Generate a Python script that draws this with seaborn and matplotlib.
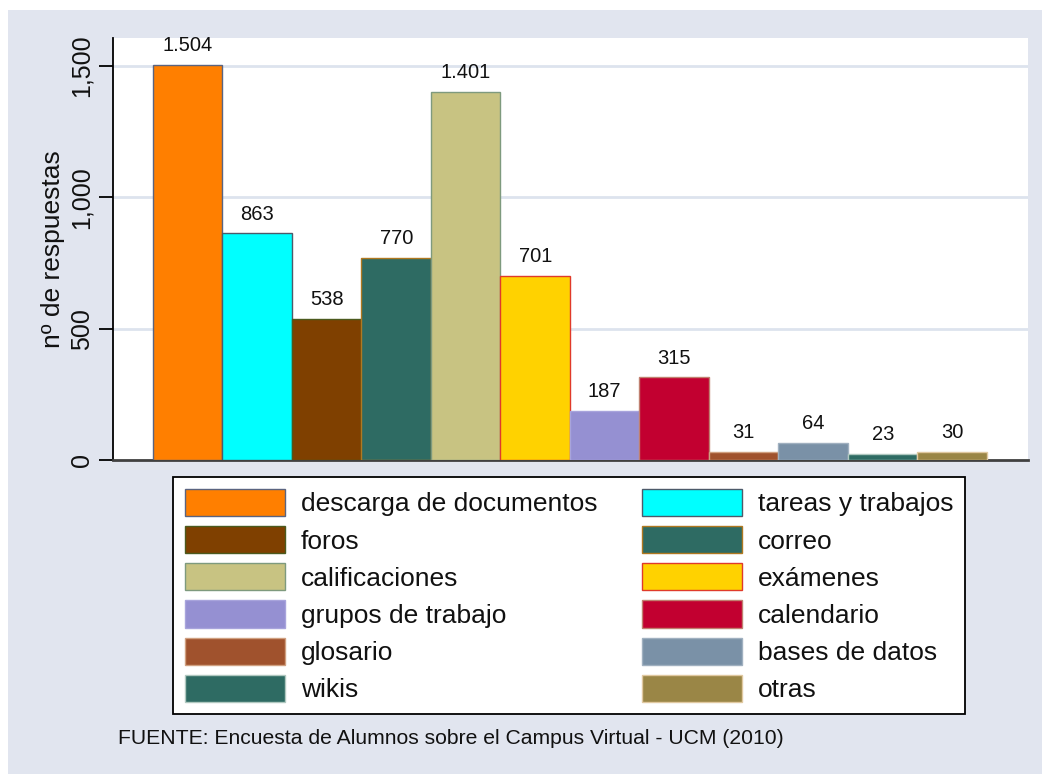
import matplotlib
matplotlib.use("Agg")
import matplotlib.pyplot as plt
from matplotlib.patches import Rectangle, Patch
import seaborn as sns
import pandas as pd

categorias = ["descarga de documentos", "tareas y trabajos", "foros", "correo",
              "calificaciones", "exámenes", "grupos de trabajo", "calendario",
              "glosario", "bases de datos", "wikis", "otras"]
respuestas = [1504, 863, 538, 770, 1401, 701, 187, 315, 31, 64, 23, 30]
colores = ["#FF7F00", "#00FFFF", "#7F4000", "#2E6B63", "#C8C382", "#FFD200",
           "#9590D2", "#C20030", "#A0522D", "#7A91A7", "#2E6B63", "#9A8646"]
bordes = ["#5A6480", "#4D5A6A", "#4B5A1E", "#B07820", "#7E9A7E", "#E03A2A",
          "#A8A4DC", "#C08070", "#D0A080", "#A0B0C0", "#B0C8C0", "#E0C8A0"]
yticks = [0, 500, 1000, 1500]
ytick_labels = ["0", "500", "1,000", "1,500"]
fuente = "FUENTE: Encuesta de Alumnos sobre el Campus Virtual - UCM (2010)"

sns.set_theme(style="white")
plt.rcParams["font.family"] = ["Liberation Sans", "DejaVu Sans"]
plt.rcParams["text.color"] = "#111111"
plt.rcParams["axes.labelcolor"] = "#111111"
plt.rcParams["ytick.color"] = "black"
plt.rcParams["ytick.labelcolor"] = "#111111"

W, H = 1042, 774
fig = plt.figure(figsize=(W / 100, H / 100), dpi=100, facecolor="white")
fig.add_artist(Rectangle((8 / W, 0), 1 - 8 / W, 1 - 10 / H, transform=fig.transFigure,
                         facecolor="#E1E5EF", edgecolor="none", zorder=0))

ax = fig.add_axes([113 / W, 1 - 460 / H, (1028 - 113) / W, (460 - 38) / H])
ax.set_facecolor("white")

df = pd.DataFrame({"cat": categorias, "n": respuestas})
sns.barplot(data=df, x="cat", y="n", hue="cat", palette=colores, dodge=False,
            width=1.0, legend=False, ax=ax, order=categorias, hue_order=categorias,
            saturation=1)

for p, ec in zip(ax.patches, bordes):
    p.set_edgecolor(ec)
    p.set_linewidth(1.0)
    p.set_zorder(3)

labels = [f"{v:,}".replace(",", ".") for v in respuestas]
for p, lab in zip(ax.patches, labels):
    ax.annotate(lab, (p.get_x() + p.get_width() / 2, p.get_height()),
                xytext=(0, 7), textcoords="offset points", ha="center", va="bottom",
                fontsize=14.5, color="#111111")

ax.set_xlim(-0.5 - 0.575, 11.5 + 0.59)
ax.set_ylim(0, 1606)
ax.set_yticks(yticks)
ax.set_yticklabels(ytick_labels, rotation=90, va="center", fontsize=18)
ax.set_xticks([])
ax.set_xlabel("")
ax.set_ylabel("nº de respuestas", fontsize=19, labelpad=3)
for y in yticks[1:]:
    ax.axhline(y, color="#DDE3EE", linewidth=2, zorder=1)

for s in ["top", "right"]:
    ax.spines[s].set_visible(False)
ax.spines["left"].set_color("black")
ax.spines["left"].set_linewidth(1.3)
ax.spines["bottom"].set_color("#404040")
ax.spines["bottom"].set_linewidth(2)
ax.tick_params(axis="y", length=10, width=1.3, color="black", pad=4, left=True)

order = [0, 2, 4, 6, 8, 10, 1, 3, 5, 7, 9, 11]
handles = [Patch(facecolor=colores[i], edgecolor=bordes[i], linewidth=1.0) for i in order]
leg_labels = [categorias[i] for i in order]
leg = fig.legend(handles, leg_labels, ncol=2, loc="upper left",
                 bbox_to_anchor=(173 / W, 1 - 713 / H, (965 - 173) / W, (713 - 477) / H),
                 mode="expand", fontsize=19, frameon=True, fancybox=False, framealpha=1,
                 handlelength=3.79, handleheight=1.2, handletextpad=0.6,
                 labelspacing=0.37, borderpad=0.45, borderaxespad=0, columnspacing=1.0,
                 labelcolor="#111111")
leg.get_frame().set_edgecolor("black")
leg.get_frame().set_linewidth(1.3)
leg.get_frame().set_facecolor("white")

fig.text(118 / W, 1 - 738 / H, fuente, fontsize=15.2, ha="left", va="center", color="#111111")

fig.savefig("out.png", dpi=100, facecolor=fig.get_facecolor())
